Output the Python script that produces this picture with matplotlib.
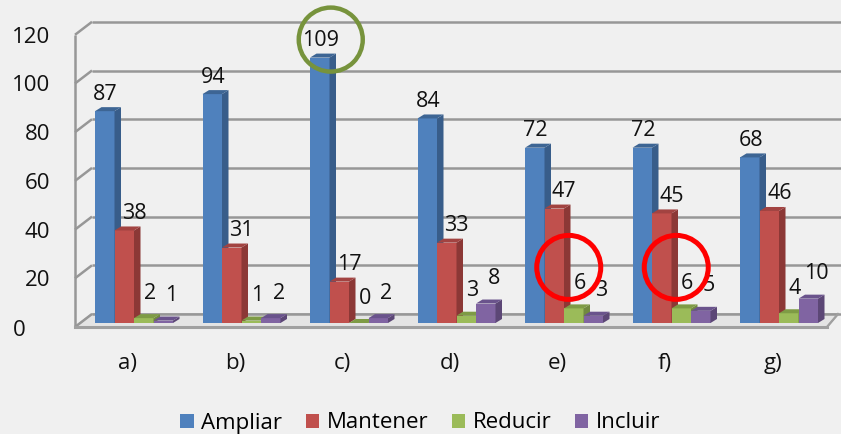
import numpy as np
import matplotlib.pyplot as plt
from matplotlib.patches import Polygon, Ellipse, Patch

plt.rcParams['font.family'] = ['Open Sans', 'DejaVu Sans']

categories = ['a)', 'b)', 'c)', 'd)', 'e)', 'f)', 'g)']
series = ['Ampliar', 'Mantener', 'Reducir', 'Incluir']
ampliar = [87, 94, 109, 84, 72, 72, 68]
mantener = [38, 31, 17, 33, 47, 45, 46]
reducir = [2, 1, 0, 3, 6, 6, 4]
incluir = [1, 2, 2, 8, 3, 5, 10]
yticks = [0, 20, 40, 60, 80, 100, 120]

values = [ampliar, mantener, reducir, incluir]
front = ['#4F81BD', '#C0504D', '#9BBB59', '#8064A2']
side = ['#385D8A', '#8C3836', '#71893F', '#5C4776']
top = ['#3D6594', '#A24341', '#7E9B45', '#6A538C']

# pixel scale of one category step and one value unit
PXX, PXY = 107.5, 2.435
W, H = 841, 434

fig = plt.figure(figsize=(W / 100, H / 100), dpi=100, facecolor='#f0f0f0')
ax = fig.add_axes([0, 0, 1, 1])
ax.set_xlim(-134 / PXX, (W - 134) / PXX)
ax.set_ylim(-(H - 323) / PXY, 323 / PXY)
ax.axis('off')

# box: front plane and back plane of the walls
fx0, fx1, fy = -59 / PXX, 693 / PXX, -4 / PXY
bx0, bx1, by = -42 / PXX, 704 / PXX, 9 / PXY
grid = dict(color='#979797', lw=1.8, zorder=1, solid_capstyle='butt')

ax.add_patch(Polygon([(fx0, fy), (fx1, fy), (bx1, by), (bx0, by)],
                     closed=True, facecolor='#e4e4e4', edgecolor='#a8a8a8', lw=1.2, zorder=0.5))
for v in yticks:
    ax.plot([bx0, 6.6], [v + by, v + by], **grid)
    ax.plot([fx0, bx0], [v + fy, v + by], **grid)
    if v == 0:
        ax.text((13 - 134) / PXX, v + fy - 1.5, str(v), ha='left', va='center',
                fontsize=16, color='#111111')
    else:
        ax.text((50 - 134) / PXX, v + fy - 1.0, str(v), ha='right', va='center',
                fontsize=16, color='#111111')
ax.plot([fx0, fx0], [fy, yticks[-1] + fy], **grid)
ax.plot([fx0, fx1], [fy, fy], color='#a0a0a0', lw=2.2, zorder=1)
ax.plot([fx1, bx1], [fy, by], color='#a0a0a0', lw=1.6, zorder=1)

# 3D bars: front face via bar(), then side and top faces
w = 19.5 / PXX
dx, dy = 6.5 / PXX, 4 / PXY
lab_dx = [1, 10, 6, 8]
lab_dy = [17, 17, 25, 25]
x = np.arange(len(categories))
for s, vals in enumerate(values):
    xs = x + (s - 1.5) * w
    z = 3 + s
    ax.bar(xs, vals, width=w, color=front[s], zorder=z, linewidth=0)
    for xc, v in zip(xs, vals):
        xl, xr = xc - w / 2, xc + w / 2
        ax.add_patch(Polygon([(xr, 0), (xr + dx, dy), (xr + dx, v + dy), (xr, v)],
                             closed=True, facecolor=side[s], lw=0, zorder=z))
        ax.add_patch(Polygon([(xl, v), (xr, v), (xr + dx, v + dy), (xl + dx, v + dy)],
                             closed=True, facecolor=top[s], lw=0, zorder=z))
        ax.annotate(str(v), (xc, v), xytext=(lab_dx[s], lab_dy[s]), textcoords='offset pixels',
                    ha='center', va='center', fontsize=15.5, color='#111111', zorder=20)

for i, c in enumerate(categories):
    ax.text(i - 0.06, -16.5, c, ha='center', va='center', fontsize=16, color='#111111')

# highlight circles
r = 32
cx = 2 + (0 - 1.5) * w + 11 / PXX
ax.add_patch(Ellipse((cx, ampliar[2] + 3 / PXY + 15 / PXY), 2 * r / PXX, 2 * r / PXY,
                     fill=False, edgecolor='#77933C', lw=3.2, zorder=30))
for i in (4, 5):
    cx = i + 0.5 * w - 5 / PXX
    cy = reducir[i] + 41 / PXY
    ax.add_patch(Ellipse((cx, cy), 2 * r / PXX, 2 * r / PXY,
                         fill=False, edgecolor='#FF0000', lw=3.6, zorder=30))

handles = [Patch(facecolor=c, label=n) for c, n in zip(front, series)]
fig.legend(handles=handles, loc='center', bbox_to_anchor=(0.5, 1 - 423 / H), ncol=4,
           frameon=False, fontsize=16, handlelength=0.6, handleheight=0.6,
           handletextpad=0.35, columnspacing=1.05)

fig.savefig('out.png', dpi=100, facecolor=fig.get_facecolor())
